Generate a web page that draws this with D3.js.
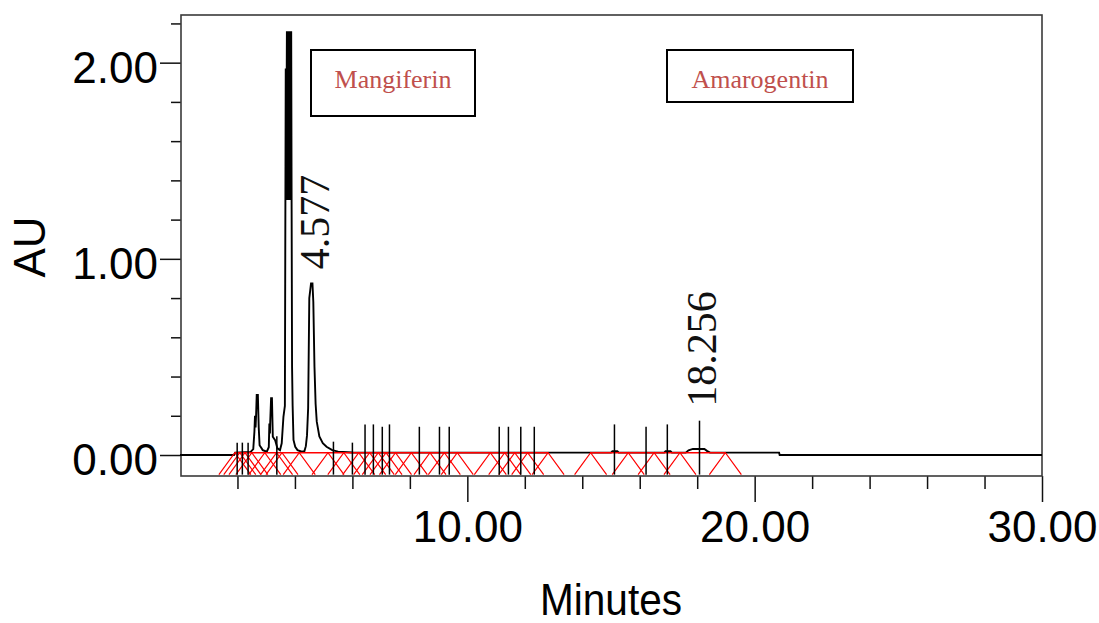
<!DOCTYPE html>
<html>
<head>
<meta charset="utf-8">
<script src="https://cdn.jsdelivr.net/npm/d3@7/dist/d3.min.js"></script>
<style>
  html, body { margin: 0; padding: 0; background: #fff; }
  #chart { width: 1099px; height: 623px; }
</style>
</head>
<body>
<div id="chart"></div>
<script>
// chromatogram trace, [minutes, AU]
const trace = [
  [0.00, 0.000], [1.88, 0.000], [1.92, 0.012], [2.45, 0.015], [2.55, 0.030],
  [2.59, 0.120], [2.61, 0.200], [2.63, 0.140], [2.65, 0.210], [2.67, 0.306],
  [2.71, 0.306], [2.74, 0.140], [2.77, 0.050], [2.88, 0.025], [3.02, 0.017],
  [3.09, 0.040], [3.11, 0.160], [3.13, 0.110], [3.14, 0.170], [3.17, 0.289],
  [3.20, 0.289], [3.23, 0.093], [3.31, 0.076], [3.39, 0.034], [3.48, 0.025],
  [3.54, 0.060], [3.60, 0.195], [3.65, 0.250], [3.68, 1.970], [3.70, 1.450],
  [3.72, 2.160], [3.735, 1.300], [3.75, 2.160], [3.765, 1.300], [3.78, 2.160],
  [3.795, 1.300], [3.81, 2.160], [3.825, 1.300], [3.84, 2.160], [3.855, 1.300],
  [3.87, 2.160], [3.885, 1.250], [3.90, 0.450], [3.92, 0.250], [3.95, 0.077],
  [4.01, 0.042], [4.09, 0.025], [4.24, 0.017], [4.33, 0.020], [4.38, 0.045],
  [4.42, 0.100], [4.46, 0.240], [4.50, 0.800], [4.54, 0.850], [4.56, 0.875],
  [4.61, 0.875], [4.64, 0.780], [4.68, 0.450], [4.72, 0.260], [4.76, 0.170],
  [4.85, 0.095], [4.97, 0.060], [5.10, 0.042], [5.30, 0.025], [5.50, 0.017],
  [6.00, 0.013], [15.00, 0.012], [15.05, 0.020], [15.22, 0.020], [15.27, 0.012],
  [16.85, 0.012], [16.90, 0.020], [17.07, 0.020], [17.12, 0.012], [17.60, 0.012],
  [17.70, 0.024], [17.85, 0.031], [18.25, 0.031], [18.35, 0.020], [18.45, 0.012],
  [20.85, 0.012], [20.87, 0.000], [30.00, 0.000]
];

// detected peak marks (black drop lines)
const markTimes = [1.99, 2.17, 2.37, 3.37, 5.34, 6.00, 6.44, 6.73, 7.04, 7.29, 8.33,
  9.03, 9.37, 11.11, 11.43, 11.86, 12.33, 15.12, 16.22, 16.96, 18.08];
const markTops = [0.063, 0.063, 0.063, 0.095, 0.068, 0.063, 0.156, 0.156, 0.144, 0.156, 0.144,
  0.144, 0.144, 0.144, 0.144, 0.144, 0.144, 0.156, 0.144, 0.156, 0.175];

// integration events (red) and integrated baseline segments
const eventTimes = [1.91, 2.08, 2.26, 2.50, 2.95, 3.36, 3.55, 4.15, 5.15, 5.70, 6.22, 6.60,
  6.90, 7.17, 7.50, 8.05, 8.70, 9.20, 9.65, 10.80, 11.30, 11.65, 12.10, 12.81,
  14.29, 15.60, 16.50, 17.40, 18.98];
const baselineStart = [1.91, 14.29];
const baselineEnd = [12.81, 18.98];
const baselineAU = 0.0117;

const peakLabelText = ['4.577', '18.256'];
const peakLabelAt = [4.577, 18.075];
const peakLabelAU = [0.875, 0.175];

const compounds = ['Mangiferin', 'Amarogentin'];

const xMajorTicks = [10, 20, 30];
const xMinorTicks = [2, 4, 6, 8, 12, 14, 16, 18, 22, 24, 26, 28];
const yMajorTicks = [0, 1, 2];
const yMinorTicks = [0.2, 0.4, 0.6, 0.8, 1.2, 1.4, 1.6, 1.8, 2.2];

const SANS = '"Liberation Sans", Arial, sans-serif';
const SERIF = '"Liberation Serif", "Times New Roman", serif';

class Chromatogram {
  constructor(parentEl) {
    this.parentEl = parentEl;
    this.svg = null;
  }

  render() {
    const [width, height] = [1099, 623];
    const plot = { left: 180, right: 1042, top: 15, bottom: 476 };
    const boxes = [
      { x: 311, y: 50, w: 164, h: 66 },
      { x: 667, y: 50, w: 186, h: 52 }
    ];

    this.svg = d3.select(this.parentEl)
      .append('svg')
      .attr('width', width)
      .attr('height', height);

    const fx = d3.scaleLinear()
      .domain([0, 30])
      .range([plot.left, plot.right]);

    const fy = d3.scaleLinear()
      .domain([-0.107, 2.243])
      .range([plot.bottom, plot.top]);

    // axes
    const styleAxis = (g, size) => {
      g.select('.domain').remove();
      g.selectAll('line').attr('stroke', '#111').attr('stroke-width', 1.5);
      g.selectAll('text')
        .attr('fill', '#000')
        .style('font-family', SANS)
        .style('font-size', `${size}px`);
    };

    this.svg.append('g')
      .attr('transform', `translate(0, ${plot.bottom})`)
      .call(d3.axisBottom(fx).tickValues(xMinorTicks).tickSize(13).tickFormat(''))
      .call(g => styleAxis(g, 44));

    this.svg.append('g')
      .attr('transform', `translate(0, ${plot.bottom})`)
      .call(d3.axisBottom(fx).tickValues(xMajorTicks).tickSize(26).tickPadding(9).tickFormat(d3.format('.2f')))
      .call(g => styleAxis(g, 44));

    this.svg.append('g')
      .attr('transform', `translate(${plot.left + 1}, 0)`)
      .call(d3.axisLeft(fy).tickValues(yMinorTicks).tickSize(10).tickFormat(''))
      .call(g => styleAxis(g, 44));

    this.svg.append('g')
      .attr('transform', `translate(${plot.left + 1}, 0)`)
      .call(d3.axisLeft(fy).tickValues(yMajorTicks).tickSize(21).tickPadding(2).tickFormat(d3.format('.2f')))
      .call(g => styleAxis(g, 44))
      .call(g => g.selectAll('text').attr('dy', '0.45em'));

    // frame
    this.svg.append('rect')
      .attr('x', plot.left + 1)
      .attr('y', plot.top)
      .attr('width', plot.right - plot.left - 1)
      .attr('height', plot.bottom - plot.top)
      .attr('fill', 'none')
      .attr('stroke', '#3a3a3a')
      .attr('stroke-width', 1.6);

    // axis titles
    this.svg.append('text')
      .attr('x', (plot.left + plot.right) / 2)
      .attr('y', 615)
      .attr('text-anchor', 'middle')
      .attr('textLength', 142)
      .attr('lengthAdjust', 'spacingAndGlyphs')
      .style('font-family', SANS)
      .style('font-size', '44px')
      .text('Minutes');

    this.svg.append('text')
      .attr('transform', 'translate(45, 247) rotate(-90)')
      .attr('text-anchor', 'middle')
      .style('font-family', SANS)
      .style('font-size', '44px')
      .text('AU');

    const graph = this.svg.append('g');

    // trace
    const line = d3.line()
      .x(d => fx(d[0]))
      .y(d => fy(d[1]));

    graph.append('path')
      .datum(trace)
      .attr('d', line)
      .attr('fill', 'none')
      .attr('stroke', '#000')
      .attr('stroke-width', 1.9)
      .attr('stroke-linejoin', 'miter');

    // integration baseline + event markers
    graph.selectAll('.base-seg')
      .data(baselineStart)
      .join('line')
      .attr('class', 'base-seg')
      .attr('x1', d => fx(d))
      .attr('x2', (d, i) => fx(baselineEnd[i]))
      .attr('y1', fy(baselineAU))
      .attr('y2', fy(baselineAU))
      .attr('stroke', '#ff0000')
      .attr('stroke-width', 1.4);

    const hw = 16;
    graph.selectAll('.event')
      .data(eventTimes)
      .join('path')
      .attr('class', 'event')
      .attr('d', d => `M${fx(d) - hw},${fy(-0.1)}L${fx(d)},${fy(baselineAU)}L${fx(d) + hw},${fy(-0.1)}`)
      .attr('fill', 'none')
      .attr('stroke', '#ff0000')
      .attr('stroke-width', 1.2);

    // peak marks
    graph.selectAll('.mark')
      .data(markTimes)
      .join('line')
      .attr('class', 'mark')
      .attr('x1', d => fx(d))
      .attr('x2', d => fx(d))
      .attr('y1', (d, i) => fy(markTops[i]))
      .attr('y2', fy(-0.1))
      .attr('stroke', '#000')
      .attr('stroke-width', 1.5);

    // peak labels
    graph.selectAll('.peak-label')
      .data(peakLabelText)
      .join('text')
      .attr('class', 'peak-label')
      .attr('transform', (d, i) => `translate(${fx(peakLabelAt[i]) + 17}, ${fy(peakLabelAU[i]) - 14}) rotate(-90)`)
      .attr('text-anchor', 'start')
      .style('font-family', SERIF)
      .style('font-size', '42px')
      .attr('fill', '#111')
      .text(d => d);

    // compound boxes
    const box = this.svg.selectAll('.compound')
      .data(compounds)
      .join('g')
      .attr('class', 'compound')
      .attr('transform', (d, i) => `translate(${boxes[i].x}, ${boxes[i].y})`);

    box.append('rect')
      .attr('width', (d, i) => boxes[i].w)
      .attr('height', (d, i) => boxes[i].h)
      .attr('fill', '#fff')
      .attr('stroke', '#000')
      .attr('stroke-width', 2);

    box.append('text')
      .attr('x', (d, i) => boxes[i].w / 2)
      .attr('y', 38)
      .attr('text-anchor', 'middle')
      .style('font-family', SERIF)
      .style('font-size', '26px')
      .attr('fill', '#c0504d')
      .text(d => d);
  }
}

new Chromatogram(document.getElementById('chart')).render();
</script>
</body>
</html>
